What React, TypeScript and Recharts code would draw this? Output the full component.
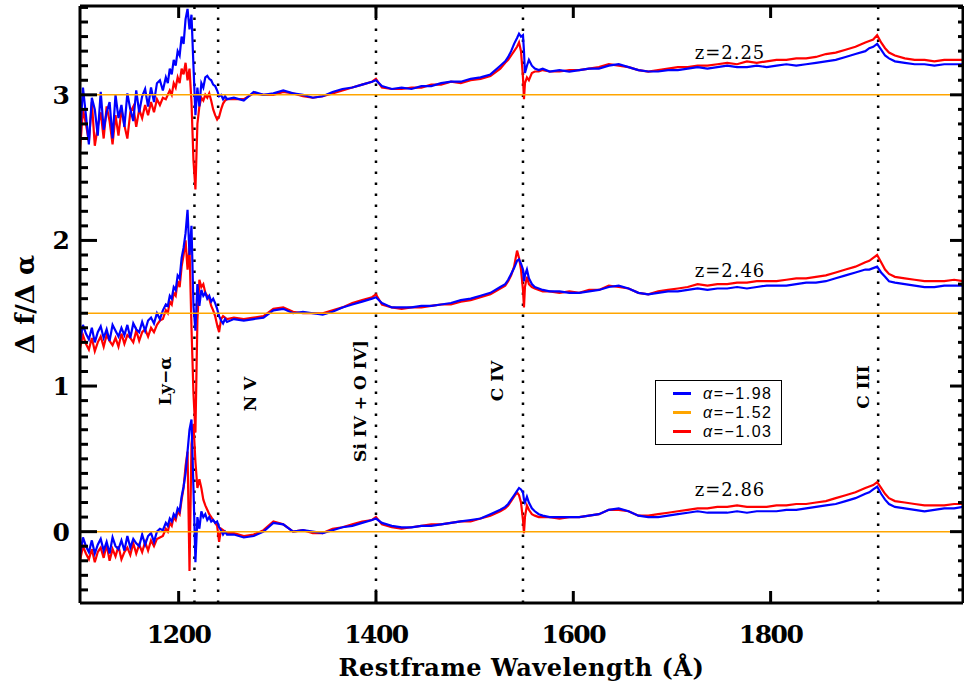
import { LineChart, Line, XAxis, YAxis, ReferenceLine, Legend } from "recharts";

// restframe wavelength grid (Å), denser around Ly-α and C IV
const wave = [
  1100, 1103, 1106, 1109, 1112, 1115, 1118, 1121, 1124, 1127, 1130, 1133, 1136, 1139, 1142,
  1145, 1148, 1151, 1154, 1157, 1160, 1163, 1166, 1169, 1172, 1175, 1178, 1181, 1184,
  1187, 1189, 1191, 1193, 1195, 1197, 1199, 1201, 1203, 1205, 1207, 1209, 1211, 1213, 1215,
  1217, 1219, 1221, 1223, 1225, 1227, 1229, 1231, 1233, 1235, 1237, 1239, 1241, 1243, 1245,
  1247, 1249,
  1256, 1266, 1276, 1286, 1296, 1306, 1316, 1326, 1336, 1346, 1356, 1366, 1376, 1386, 1396,
  1400, 1406, 1416, 1426, 1436, 1446, 1456, 1466, 1476, 1486, 1496, 1506, 1516, 1526,
  1531, 1534, 1537, 1540, 1543, 1545, 1547, 1549, 1550, 1551, 1553, 1555, 1558, 1561, 1565, 1569,
  1576, 1586, 1596, 1606, 1616, 1626, 1636, 1646, 1656, 1666, 1676, 1686, 1696, 1706, 1716,
  1726, 1736, 1746, 1756, 1766, 1776, 1786, 1796, 1806, 1816, 1826, 1836, 1846, 1856, 1866,
  1876, 1886, 1896, 1900, 1904, 1908, 1912, 1916, 1920, 1926, 1936, 1946, 1956, 1966, 1976,
  1986, 1995,
];

// z=2.25 (offset 3)
const topBlue = [
  2.70, 3.05, 2.86, 2.66, 2.98, 2.90, 2.72, 3.02, 2.76, 2.88, 2.95, 2.70, 3.00, 2.84, 2.93,
  2.78, 3.01, 2.90, 2.82, 3.03, 2.88, 2.99, 3.04, 2.92, 3.05, 2.95, 3.08, 3.10, 3.03,
  3.12, 3.08, 3.18, 3.14, 3.24, 3.20, 3.30, 3.27, 3.40, 3.35, 3.52, 3.59, 3.45, 3.55, 3.20,
  2.86, 3.05, 2.92, 3.08, 3.05, 3.12, 3.13, 3.11, 3.10, 3.07, 3.06, 3.03, 2.99, 3.00, 2.97,
  2.99, 2.97,
  2.98, 2.96, 3.02, 3.00, 3.01, 3.03, 3.01, 3.00, 2.98, 2.99, 3.02, 3.04, 3.05, 3.07, 3.09,
  3.10, 3.06, 3.04, 3.05, 3.04, 3.06, 3.06, 3.08, 3.09, 3.09, 3.11, 3.12, 3.14, 3.20,
  3.23, 3.26, 3.30, 3.35, 3.39, 3.42, 3.40, 3.41, 3.30, 3.15, 3.20, 3.24, 3.20, 3.18, 3.17, 3.18,
  3.16, 3.17, 3.16, 3.17, 3.18, 3.18, 3.20, 3.21, 3.19, 3.17, 3.16, 3.16, 3.17, 3.17, 3.18,
  3.19, 3.18, 3.19, 3.20, 3.19, 3.19, 3.20, 3.19, 3.20, 3.21, 3.20, 3.21, 3.22, 3.23, 3.24,
  3.26, 3.28, 3.30, 3.32, 3.33, 3.35, 3.31, 3.27, 3.25, 3.23, 3.22, 3.21, 3.21, 3.20, 3.21,
  3.21, 3.21,
];
const topRed = [
  2.62, 2.90, 2.80, 2.68, 2.95, 2.65, 2.78, 2.88, 2.70, 2.92, 2.82, 2.66, 2.86, 2.72, 2.90,
  2.79, 2.70, 2.88, 2.92, 2.78, 2.90, 2.84, 2.93, 2.86, 2.95, 2.88, 2.97, 2.93, 2.98,
  2.97, 3.00, 3.03, 3.00, 3.08, 3.05, 3.12, 3.08, 3.18, 3.14, 3.22, 3.10, 3.18, 2.95, 2.55,
  2.35, 2.80, 2.92, 2.98, 2.96, 3.00, 2.98, 3.01, 2.96, 2.90, 2.86, 2.83, 2.85, 2.90, 2.94,
  2.96, 2.97,
  2.97, 2.97, 3.01, 3.00, 3.00, 3.02, 3.01, 2.99, 2.98, 2.99, 3.01, 3.03, 3.05, 3.07, 3.09,
  3.11, 3.05, 3.04, 3.04, 3.05, 3.05, 3.07, 3.07, 3.09, 3.08, 3.10, 3.11, 3.13, 3.18,
  3.22, 3.24, 3.27, 3.30, 3.33, 3.36, 3.30, 3.12, 2.97, 3.08, 3.12, 3.10, 3.15, 3.16, 3.16, 3.17,
  3.16, 3.16, 3.17, 3.17, 3.18, 3.19, 3.21, 3.20, 3.19, 3.17, 3.16, 3.17, 3.18, 3.19, 3.19,
  3.20, 3.20, 3.21, 3.22, 3.21, 3.23, 3.22, 3.23, 3.24, 3.24, 3.25, 3.25, 3.26, 3.28, 3.29,
  3.31, 3.33, 3.36, 3.37, 3.38, 3.41, 3.36, 3.32, 3.29, 3.27, 3.25, 3.24, 3.24, 3.23, 3.24,
  3.24, 3.24,
];

// z=2.46 (offset 1.5)
const midBlue = [
  1.30, 1.42, 1.36, 1.32, 1.40, 1.30, 1.37, 1.41, 1.33, 1.39, 1.31, 1.42, 1.38, 1.34, 1.40,
  1.35, 1.42, 1.33, 1.43, 1.39, 1.37, 1.44, 1.38, 1.45, 1.47, 1.43, 1.50, 1.46, 1.52,
  1.56, 1.55, 1.62, 1.60, 1.68, 1.66, 1.76, 1.74, 1.88, 1.95, 2.05, 2.21, 1.90, 2.10, 1.55,
  1.38, 1.70, 1.55, 1.66, 1.62, 1.64, 1.60, 1.62, 1.58, 1.60, 1.57, 1.53, 1.48, 1.45, 1.43,
  1.46, 1.44,
  1.46, 1.45, 1.46, 1.47, 1.52, 1.53, 1.50, 1.51, 1.50, 1.49, 1.51, 1.54, 1.56, 1.58, 1.60,
  1.61, 1.57, 1.54, 1.54, 1.54, 1.55, 1.55, 1.56, 1.57, 1.59, 1.60, 1.62, 1.64, 1.68,
  1.70, 1.73, 1.77, 1.81, 1.86, 1.87, 1.84, 1.80, 1.72, 1.76, 1.80, 1.74, 1.70, 1.68, 1.67, 1.66,
  1.65, 1.65, 1.64, 1.64, 1.65, 1.66, 1.68, 1.69, 1.67, 1.64, 1.63, 1.64, 1.65, 1.65, 1.66,
  1.67, 1.66, 1.67, 1.67, 1.68, 1.67, 1.68, 1.69, 1.69, 1.69, 1.70, 1.71, 1.71, 1.72, 1.74,
  1.76, 1.78, 1.80, 1.80, 1.81, 1.82, 1.78, 1.75, 1.72, 1.71, 1.70, 1.69, 1.68, 1.68, 1.69,
  1.69, 1.69,
];
const midRed = [
  1.26, 1.35, 1.29, 1.25, 1.33, 1.24, 1.30, 1.34, 1.27, 1.35, 1.31, 1.28, 1.33, 1.27, 1.36,
  1.29, 1.35, 1.33, 1.30, 1.38, 1.31, 1.37, 1.39, 1.34, 1.40, 1.37, 1.42, 1.45, 1.46,
  1.52, 1.50, 1.58, 1.56, 1.64, 1.62, 1.72, 1.68, 1.82, 1.90, 2.00, 1.80, 1.95, 1.40, 0.95,
  0.68, 1.45, 1.73, 1.68, 1.70, 1.64, 1.62, 1.60, 1.55, 1.52, 1.48, 1.42, 1.37, 1.46, 1.48,
  1.47, 1.46,
  1.47, 1.46, 1.47, 1.48, 1.53, 1.54, 1.51, 1.50, 1.50, 1.50, 1.52, 1.54, 1.57, 1.59, 1.61,
  1.63, 1.56, 1.54, 1.53, 1.54, 1.54, 1.55, 1.56, 1.56, 1.58, 1.59, 1.61, 1.63, 1.67,
  1.69, 1.72, 1.76, 1.82, 1.93, 1.88, 1.80, 1.66, 1.54, 1.68, 1.75, 1.70, 1.68, 1.67, 1.66, 1.65,
  1.65, 1.64, 1.65, 1.64, 1.66, 1.66, 1.69, 1.68, 1.67, 1.64, 1.63, 1.65, 1.66, 1.67, 1.68,
  1.70, 1.69, 1.70, 1.70, 1.71, 1.71, 1.72, 1.72, 1.72, 1.73, 1.74, 1.74, 1.75, 1.76, 1.78,
  1.80, 1.82, 1.85, 1.86, 1.88, 1.90, 1.85, 1.80, 1.77, 1.75, 1.74, 1.73, 1.72, 1.72, 1.72,
  1.73, 1.72,
];

// z=2.86 (offset 0)
const lowBlue = [
  -0.16, -0.04, -0.10, -0.14, -0.06, -0.15, -0.09, -0.05, -0.13, -0.07, -0.15, -0.04, -0.10, -0.12, -0.06,
  -0.13, -0.03, -0.11, -0.05, -0.08, -0.10, -0.02, -0.09, -0.03, -0.01, -0.07, 0.00, 0.02, 0.01,
  0.06, 0.04, 0.09, 0.07, 0.12, 0.10, 0.16, 0.14, 0.24, 0.31, 0.40, 0.55, 0.70, 0.77, 0.30,
  -0.21, 0.10, 0.02, 0.14, 0.10, 0.12, 0.08, 0.10, 0.07, 0.08, 0.06, 0.07, 0.03, 0.01, -0.02,
  0.00, -0.02,
  -0.02, -0.04, -0.03, 0.00, 0.06, 0.05, 0.00, 0.01, 0.00, -0.01, 0.01, 0.03, 0.04, 0.06, 0.08,
  0.09, 0.06, 0.04, 0.03, 0.03, 0.04, 0.04, 0.05, 0.06, 0.07, 0.08, 0.09, 0.12, 0.15,
  0.17, 0.19, 0.22, 0.25, 0.28, 0.30, 0.29, 0.27, 0.22, 0.20, 0.24, 0.20, 0.16, 0.14, 0.12, 0.11,
  0.10, 0.10, 0.10, 0.10, 0.11, 0.12, 0.15, 0.16, 0.14, 0.11, 0.10, 0.10, 0.11, 0.12, 0.13,
  0.14, 0.13, 0.13, 0.13, 0.14, 0.13, 0.14, 0.14, 0.14, 0.15, 0.15, 0.16, 0.17, 0.18, 0.19,
  0.21, 0.23, 0.26, 0.27, 0.29, 0.31, 0.26, 0.22, 0.19, 0.17, 0.16, 0.15, 0.14, 0.15, 0.16,
  0.16, 0.17,
];
const lowRed = [
  -0.20, -0.10, -0.15, -0.19, -0.12, -0.21, -0.14, -0.11, -0.18, -0.09, -0.20, -0.12, -0.17, -0.10, -0.19,
  -0.14, -0.11, -0.16, -0.08, -0.15, -0.09, -0.14, -0.07, -0.13, -0.06, -0.10, -0.05, -0.04, -0.03,
  0.02, 0.00, 0.06, 0.04, 0.10, 0.08, 0.14, 0.12, 0.22, 0.30, 0.45, 0.55, -0.27, 0.60, 0.74,
  0.48, 0.30, 0.36, 0.30, 0.22, 0.18, 0.15, 0.12, 0.10, 0.08, 0.06, 0.04, -0.07, 0.02, 0.01,
  0.00, -0.01,
  -0.01, -0.03, -0.02, 0.01, 0.07, 0.05, 0.00, 0.01, -0.01, -0.01, 0.02, 0.03, 0.05, 0.07, 0.08,
  0.10, 0.05, 0.03, 0.02, 0.03, 0.04, 0.05, 0.05, 0.06, 0.07, 0.07, 0.09, 0.11, 0.14,
  0.16, 0.18, 0.21, 0.24, 0.27, 0.25, 0.20, 0.08, -0.01, 0.10, 0.18, 0.15, 0.12, 0.11, 0.10, 0.10,
  0.10, 0.09, 0.10, 0.10, 0.11, 0.12, 0.15, 0.15, 0.14, 0.11, 0.11, 0.12, 0.13, 0.14, 0.15,
  0.16, 0.16, 0.17, 0.17, 0.18, 0.17, 0.17, 0.17, 0.18, 0.18, 0.19, 0.19, 0.20, 0.21, 0.23,
  0.25, 0.27, 0.30, 0.31, 0.32, 0.34, 0.30, 0.26, 0.23, 0.21, 0.20, 0.19, 0.18, 0.18, 0.18,
  0.19, 0.19,
];

const offsets = [3, 1.5, 0];
const redshifts = ["z=2.25", "z=2.46", "z=2.86"];
const lineWaves = [1216, 1240, 1400, 1549, 1909];
const lineNames = ["Ly\u2212\u03b1", "N V", "Si IV + O IV]", "C IV", "C III"];
const legendNames = ["=\u22121.98", "=\u22121.52", "=\u22121.03"];
const xTicks = [1200, 1400, 1600, 1800];
const yTicks = [
  -0.4, -0.3, -0.2, -0.1, 0, 0.1, 0.2, 0.3, 0.4, 0.5, 0.6, 0.7, 0.8, 0.9, 1,
  1.1, 1.2, 1.3, 1.4, 1.5, 1.6, 1.7, 1.8, 1.9, 2, 2.1, 2.2, 2.3, 2.4, 2.5,
  2.6, 2.7, 2.8, 2.9, 3, 3.1, 3.2, 3.3, 3.4, 3.5, 3.6,
];

const BLUE = "#0000ff";
const ORANGE = "#ffa500";
const RED = "#ff0000";
const legendColors = [BLUE, ORANGE, RED];

const rows = wave.map((w, i) => ({
  w,
  tb: topBlue[i],
  tr: topRed[i],
  mb: midBlue[i],
  mr: midRed[i],
  lb: lowBlue[i],
  lr: lowRed[i],
}));

// label placement (pixels relative to the dotted line)
const lineLabelPos = [
  { dx: -29, cy: 381 },
  { dx: 32, cy: 394 },
  { dx: -16, cy: 401 },
  { dx: -26, cy: 381 },
  { dx: -15, cy: 387 },
];

const serif = "'DejaVu Serif', serif";
const M = 4;

const isMajor = (v: number) => Math.abs(v - Math.round(v)) < 1e-6;

const BottomTick = (p: any) => {
  const axisY = p.y - M;
  return (
    <g>
      <line x1={p.x} x2={p.x} y1={axisY} y2={axisY - 12} stroke="#000" strokeWidth={3} />
      <text
        x={p.x}
        y={axisY + 40}
        textAnchor="middle"
        fontFamily={serif}
        fontWeight="bold"
        fontSize={25}
        letterSpacing={-1.5}
        fill="#000"
      >
        {p.payload.value}
      </text>
    </g>
  );
};

const TopTick = (p: any) => {
  const axisY = p.y + M;
  return <line x1={p.x} x2={p.x} y1={axisY} y2={axisY + 12} stroke="#000" strokeWidth={3} />;
};

const LeftTick = (p: any) => {
  const axisX = p.x + M;
  const v = p.payload.value;
  const major = isMajor(v);
  return (
    <g>
      <line x1={axisX} x2={axisX + (major ? 17 : 8)} y1={p.y} y2={p.y} stroke="#000" strokeWidth={3} />
      {major && (
        <text
          x={axisX - 10}
          y={p.y + 9}
          textAnchor="end"
          fontFamily={serif}
          fontWeight="bold"
          fontSize={25}
          fill="#000"
        >
          {Math.round(v)}
        </text>
      )}
    </g>
  );
};

const RightTick = (p: any) => {
  const axisX = p.x - M;
  const major = isMajor(p.payload.value);
  return (
    <line x1={axisX} x2={axisX - (major ? 13 : 5)} y1={p.y} y2={p.y} stroke="#000" strokeWidth={3} />
  );
};

const LegendBox = () => (
  <div
    style={{
      width: 127,
      height: 65,
      boxSizing: "border-box",
      border: "1px solid #000",
      background: "#fff",
      paddingTop: 3,
      fontFamily: "'Liberation Sans', sans-serif",
      fontSize: 16,
      letterSpacing: 1.5,
      color: "#000",
    }}
  >
    {legendNames.map((n, i) => (
      <div key={n} style={{ display: "flex", alignItems: "center", height: 19 }}>
        <span
          style={{
            display: "inline-block",
            width: 18,
            height: 3,
            background: legendColors[i],
            marginLeft: 17,
            marginRight: 12,
          }}
        />
        <span>
          <i>{"\u03b1"}</i>
          {n}
        </span>
      </div>
    ))}
  </div>
);

export default function App() {
  return (
    <div style={{ position: "absolute", left: 0, top: 0, background: "#fff" }}>
      <LineChart
        width={964}
        height={690}
        data={rows}
        margin={{ top: 0, right: 0, bottom: 0, left: 0 }}
      >
        <XAxis
          xAxisId="b"
          type="number"
          dataKey="w"
          domain={[1100, 1995]}
          allowDataOverflow
          ticks={xTicks}
          interval={0}
          orientation="bottom"
          height={87}
          tickSize={0}
          tickMargin={M}
          tick={<BottomTick />}
          axisLine={{ stroke: "#000", strokeWidth: 3 }}
          label={(props: any) => {
            const vb = props.viewBox;
            return (
              <text
                x={vb.x + vb.width / 2}
                y={676}
                textAnchor="middle"
                fontFamily={serif}
                fontWeight="bold"
                fontSize={24}
                letterSpacing={0.5}
                fill="#000"
              >
                Restframe Wavelength (Å)
              </text>
            );
          }}
        />
        <XAxis
          xAxisId="t"
          type="number"
          dataKey="w"
          domain={[1100, 1995]}
          allowDataOverflow
          ticks={xTicks}
          interval={0}
          orientation="top"
          height={6}
          tickSize={0}
          tickMargin={M}
          tick={<TopTick />}
          axisLine={{ stroke: "#000", strokeWidth: 3 }}
        />
        <YAxis
          yAxisId="l"
          type="number"
          domain={[-0.49, 3.61]}
          allowDataOverflow
          ticks={yTicks}
          interval={0}
          width={80}
          tickSize={0}
          tickMargin={M}
          tick={<LeftTick />}
          axisLine={{ stroke: "#000", strokeWidth: 3 }}
          label={(props: any) => {
            const vb = props.viewBox;
            const cx = 25;
            const cy = vb.y + vb.height / 2;
            return (
              <text
                x={cx}
                y={cy}
                transform={`rotate(-90 ${cx} ${cy})`}
                textAnchor="middle"
                dominantBaseline="central"
                fontFamily={serif}
                fontWeight="bold"
                fontSize={26}
                fill="#000"
              >
                {"\u0394 f/\u0394 \u03b1"}
              </text>
            );
          }}
        />
        <YAxis
          yAxisId="r"
          orientation="right"
          type="number"
          domain={[-0.49, 3.61]}
          allowDataOverflow
          ticks={yTicks}
          interval={0}
          width={1}
          tickSize={0}
          tickMargin={M}
          tick={<RightTick />}
          axisLine={{ stroke: "#000", strokeWidth: 3 }}
        />

        {lineWaves.map((lw, i) => (
          <ReferenceLine
            key={lw}
            xAxisId="b"
            yAxisId="l"
            x={lw}
            stroke="#000"
            strokeWidth={2.5}
            strokeDasharray="2.5 8.5"
            label={(props: any) => {
              const vb = props.viewBox;
              const cx = vb.x + lineLabelPos[i].dx;
              const cy = lineLabelPos[i].cy;
              return (
                <text
                  x={cx}
                  y={cy}
                  transform={`rotate(-90 ${cx} ${cy})`}
                  textAnchor="middle"
                  dominantBaseline="central"
                  fontFamily={serif}
                  fontWeight="bold"
                  fontSize={17}
                  fill="#000"
                >
                  {lineNames[i]}
                </text>
              );
            }}
          />
        ))}

        <Line xAxisId="b" yAxisId="l" dataKey="tr" stroke={RED} strokeWidth={2.2} dot={false} isAnimationActive={false} />
        <Line xAxisId="b" yAxisId="l" dataKey="tb" stroke={BLUE} strokeWidth={2.2} dot={false} isAnimationActive={false} />
        <Line xAxisId="b" yAxisId="l" dataKey="mr" stroke={RED} strokeWidth={2.2} dot={false} isAnimationActive={false} />
        <Line xAxisId="b" yAxisId="l" dataKey="mb" stroke={BLUE} strokeWidth={2.2} dot={false} isAnimationActive={false} />
        <Line xAxisId="b" yAxisId="l" dataKey="lr" stroke={RED} strokeWidth={2.2} dot={false} isAnimationActive={false} />
        <Line xAxisId="b" yAxisId="l" dataKey="lb" stroke={BLUE} strokeWidth={2.2} dot={false} isAnimationActive={false} />

        {offsets.map((o, i) => (
          <ReferenceLine
            key={o}
            xAxisId="b"
            yAxisId="l"
            y={o}
            stroke={ORANGE}
            strokeWidth={1.5}
            label={(props: any) => {
              const vb = props.viewBox;
              return (
                <text
                  x={vb.x + 650}
                  y={vb.y - 36}
                  textAnchor="middle"
                  fontFamily={serif}
                  fontSize={18}
                  letterSpacing={1}
                  fill="#000"
                >
                  {redshifts[i]}
                </text>
              );
            }}
          />
        ))}

        <Legend
          layout="vertical"
          align="center"
          verticalAlign="middle"
          content={<LegendBox />}
          wrapperStyle={{ left: 655, top: 380, width: 127, height: 65 }}
        />
      </LineChart>
    </div>
  );
}
